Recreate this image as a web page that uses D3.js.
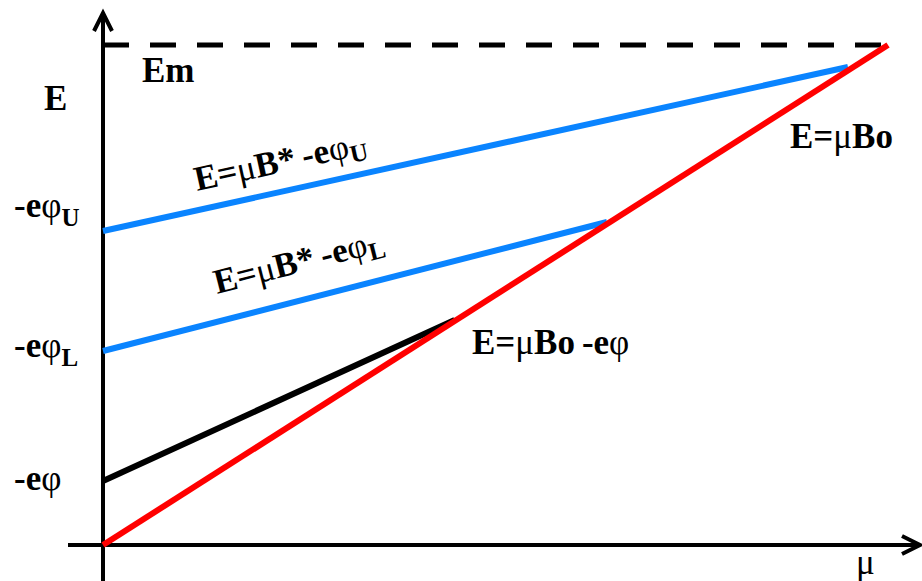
<!DOCTYPE html>
<html>
<head>
<meta charset="utf-8">
<script src="https://cdn.jsdelivr.net/npm/d3@7"></script>
<style>
  body { margin: 0; background: #fff; }
  text { font-family: "Liberation Serif", "Times New Roman", serif; font-weight: bold; fill: #000; }
  .sym { font-weight: normal; }
</style>
</head>
<body>
<div id="chart"></div>
<script>
var svgWidth = 922;
var svgHeight = 581;

// line end points, in units of mu (0..1) and E (0..Em = 1)
var redLine = [[0, 0], [1, 1]];            // E = mu Bo
var upperBlue = [[0, 0.628], [0.949, 0.956]]; // E = mu B* - e phi_U
var lowerBlue = [[0, 0.388], [0.642, 0.646]]; // E = mu B* - e phi_L
var blackLine = [[0, 0.128], [0.448, 0.450]]; // E = mu Bo - e phi
var emLevel = 1;

// y axis tick labels
var tickValues = [0.628, 0.388, 0.128];
var tickSubs = ["U", "L", ""];

var fs = 35;
var subFs = 25;

var svg = d3.select("#chart")
  .append("svg")
  .attr("width", svgWidth)
  .attr("height", svgHeight);

var x = d3.scaleLinear().domain([0, 1]).range([103, 888]);
var y = d3.scaleLinear().domain([0, 1]).range([545, 45]);

var line = d3.line()
  .x(d => x(d[0]))
  .y(d => y(d[1]));

// axes
svg.append("line")
  .attr("x1", x(0)).attr("x2", x(0))
  .attr("y1", 13).attr("y2", 581)
  .attr("stroke", "#000").attr("stroke-width", 4);

svg.append("line")
  .attr("x1", 68).attr("x2", 920)
  .attr("y1", y(0)).attr("y2", y(0))
  .attr("stroke", "#000").attr("stroke-width", 4);

// arrow heads
svg.append("path")
  .attr("d", `M${x(0) - 9},${31} L${x(0)},${13} L${x(0) + 9},${31}`)
  .attr("fill", "none").attr("stroke", "#000").attr("stroke-width", 4);

svg.append("path")
  .attr("d", `M${902},${y(0) - 9} L${920},${y(0)} L${902},${y(0) + 9}`)
  .attr("fill", "none").attr("stroke", "#000").attr("stroke-width", 4);

// Em dashed level
svg.append("line")
  .attr("x1", x(0)).attr("x2", x(1))
  .attr("y1", y(emLevel)).attr("y2", y(emLevel))
  .attr("stroke", "#000").attr("stroke-width", 5)
  .attr("stroke-dasharray", "26,21");

// lines
svg.append("path").datum(blackLine).attr("d", line)
  .attr("stroke", "#000").attr("stroke-width", 6).attr("fill", "none");
svg.append("path").datum(upperBlue).attr("d", line)
  .attr("stroke", "#0a84ff").attr("stroke-width", 6).attr("fill", "none");
svg.append("path").datum(lowerBlue).attr("d", line)
  .attr("stroke", "#0a84ff").attr("stroke-width", 6).attr("fill", "none");
svg.append("path").datum(redLine).attr("d", line)
  .attr("stroke", "#ff0000").attr("stroke-width", 6).attr("fill", "none");

// axis titles
svg.append("text").attr("x", 44).attr("y", 110)
  .attr("font-size", fs).text("E");
svg.append("text").attr("x", 142).attr("y", 82)
  .attr("font-size", fs).text("Em");
svg.append("text").attr("x", 856).attr("y", 574)
  .attr("font-size", fs).attr("class", "sym").text("μ");

// tick labels on E axis
var tickDy = [-14, 6, 9];
tickValues.forEach(function(v, i) {
  var t = svg.append("text")
    .attr("x", 14)
    .attr("y", y(v) + tickDy[i])
    .attr("font-size", fs);
  t.append("tspan").text("-e");
  t.append("tspan").attr("class", "sym").text("φ");
  if (tickSubs[i]) {
    t.append("tspan").attr("dy", 9).attr("font-size", subFs).text(tickSubs[i]);
  }
});

// rotated labels along blue lines
function angleOf(seg) {
  var dx = x(seg[1][0]) - x(seg[0][0]);
  var dy = y(seg[1][1]) - y(seg[0][1]);
  return Math.atan2(dy, dx) * 180 / Math.PI;
}

function eqLabel(g, sub) {
  var t = g.append("text").attr("font-size", fs);
  t.append("tspan").text("E=");
  t.append("tspan").attr("class", "sym").text("μ");
  t.append("tspan").text("B*\u2009-e");
  t.append("tspan").attr("class", "sym").text("φ");
  t.append("tspan").attr("dy", 6).attr("font-size", subFs).text(sub);
}

var g1 = svg.append("g")
  .attr("transform", `translate(197,191) rotate(${angleOf(upperBlue)})`);
eqLabel(g1, "U");

var g2 = svg.append("g")
  .attr("transform", `translate(217,294) rotate(${angleOf(lowerBlue)})`);
eqLabel(g2, "L");

// straight labels
var t3 = svg.append("text").attr("x", 472).attr("y", 354).attr("font-size", fs);
t3.append("tspan").text("E=");
t3.append("tspan").attr("class", "sym").text("μ");
t3.append("tspan").text("Bo\u2009-e");
t3.append("tspan").attr("class", "sym").text("φ");

var t4 = svg.append("text").attr("x", 790).attr("y", 148).attr("font-size", fs);
t4.append("tspan").text("E=");
t4.append("tspan").attr("class", "sym").text("μ");
t4.append("tspan").text("Bo");
</script>
</body>
</html>
